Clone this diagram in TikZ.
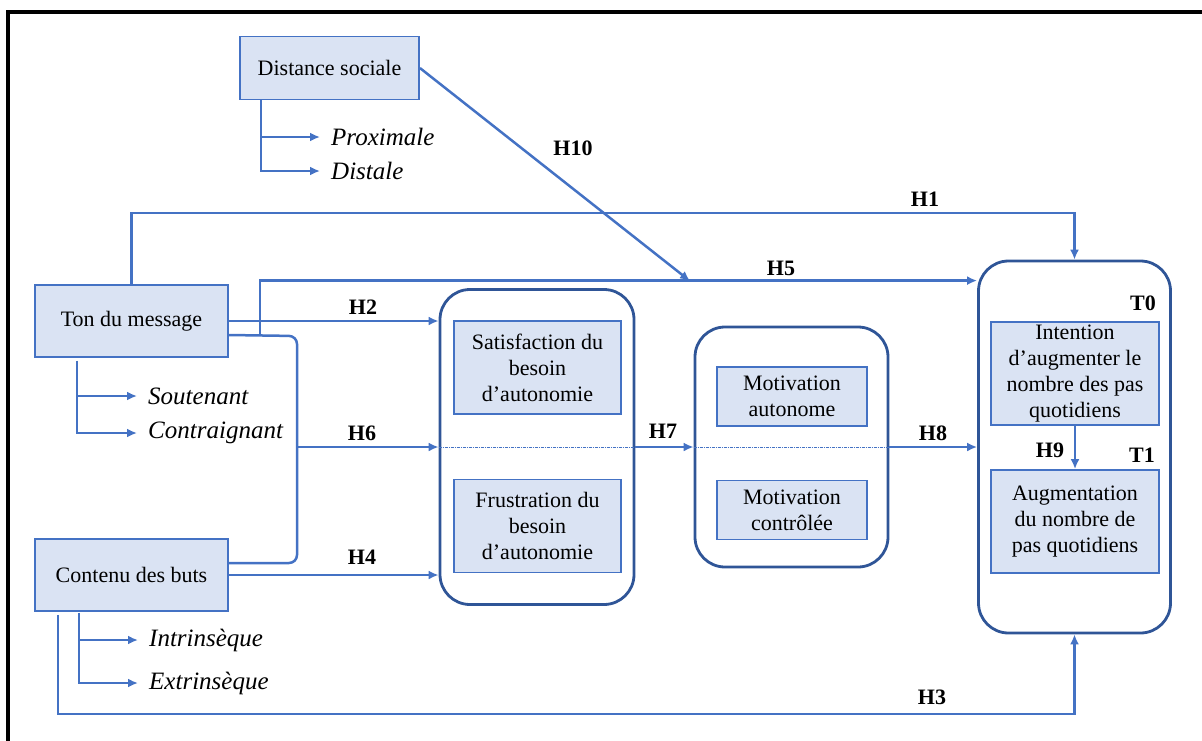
\documentclass[tikz,border=0pt]{standalone}
\usepackage{fontspec}
\setmainfont{Liberation Serif}
\usetikzlibrary{calc,arrows.meta}

\definecolor{bleu}{HTML}{4472C4}
\definecolor{bleufonce}{HTML}{2F5597}
\definecolor{bleuclair}{HTML}{DAE3F3}

\tikzset{
  boite/.style={draw=bleu, line width=1.8pt, fill=bleuclair, inner sep=0pt, align=center, font=\fontsize{22}{26}\selectfont},
  cadre/.style={draw=bleufonce, line width=2.8pt, rounded corners=30pt, inner sep=0pt},
  ligne/.style={draw=bleu, line width=2.5pt},
  fleche/.style={ligne, -{Latex[length=10pt,width=9pt]}},
  pointille/.style={draw=bleu, line width=1pt, densely dash dot},
  hyp/.style={font=\fontsize{22}{26}\selectfont\bfseries, inner sep=0pt},
  modal/.style={font=\fontsize{25}{29}\selectfont\itshape, anchor=west, inner xsep=11pt, inner ysep=0pt}
}

\begin{document}
\begin{tikzpicture}[x=1pt,y=-1pt]
  \useasboundingbox (0,0) rectangle (1202,740);
  % cadre noir
  \draw[line width=4pt] (8,760) -- (8,11.5) -- (1220,11.5);

  % groupes
  \node[cadre, minimum width=194pt, minimum height=315pt] (besoin) at (537,447) {};
  \node[cadre, minimum width=193pt, minimum height=240pt] (motiv) at (791.5,447) {};
  \node[cadre, minimum width=192pt, minimum height=372pt] (result) at (1074.5,447) {};

  % variables
  \node[boite, minimum width=179pt, minimum height=63pt] (dist) at (329.5,68) {Distance sociale};
  \node[boite, minimum width=193pt, minimum height=72pt] (ton) at (131.5,321) {Ton du message};
  \node[boite, minimum width=193pt, minimum height=72pt] (contenu) at (131.5,575) {Contenu des buts};
  \node[boite, minimum width=167pt, minimum height=93pt] (satis) at (537.5,367.5) {Satisfaction du\\besoin\\d’autonomie};
  \node[boite, minimum width=167pt, minimum height=93pt] (frust) at (537.5,526) {Frustration du\\besoin\\d’autonomie};
  \node[boite, minimum width=150pt, minimum height=59pt] (auto) at (792,396.5) {Motivation\\autonome};
  \node[boite, minimum width=150pt, minimum height=59pt] (contr) at (792,510) {Motivation\\contrôlée};
  \node[boite, minimum width=168pt, minimum height=103pt] (intent) at (1075,373.5) {Intention\\d’augmenter le\\nombre des pas\\quotidiens};
  \node[boite, minimum width=168pt, minimum height=103pt] (augm) at (1075,521.5) {Augmentation\\du nombre de\\pas quotidiens};

  % modalites
  \node[modal] (prox) at (320,137) {Proximale};
  \node[modal] (distale) at (320,171) {Distale};
  \node[modal] (sout) at (137,396) {Soutenant};
  \node[modal] (contrai) at (137,433) {Contraignant};
  \node[modal] (intr) at (138,640) {Intrinsèque};
  \node[modal] (extr) at (138,683) {Extrinsèque};

  \draw[fleche] ($(dist.south west)+(22,0)$) |- (prox.west);
  \draw[fleche] ($(dist.south west)+(22,0)$) |- (distale.west);
  \draw[fleche] ($(ton.south west)+(43,3)$) |- (sout.west);
  \draw[fleche] ($(ton.south west)+(43,3)$) |- (contrai.west);
  \draw[fleche] ($(contenu.south west)+(45,1)$) |- (intr.west);
  \draw[fleche] ($(contenu.south west)+(45,1)$) |- (extr.west);

  % liens
  \coordinate (b1) at (297,336);
  \coordinate (b2) at (297,563);
  \coordinate (b3) at (297,447);
  \coordinate (h5) at (260,335);
  \coordinate (h10) at (690,281);
  \draw[ligne, rounded corners=8pt] ($(ton.east)+(0,14)$) -- (b1) -- (b2) -- ($(contenu.east)+(0,-12)$);
  \draw[fleche] (ton.north) -- ++(0,-71) -| (result.north);
  \draw[fleche] ($(contenu.south west)+(24,3)$) -- ++(0,99) -| (result.south);
  \draw[fleche] (h5) |- ($(result.north west)+(0,21)$);
  \draw[fleche] (dist.east) -- (h10);
  \draw[fleche] (ton.east) -- (ton.east -| besoin.west);
  \draw[fleche] (b3) -- (besoin.west);
  \draw[fleche] (contenu.east) -- (contenu.east -| besoin.west);
  \draw[fleche] (besoin.east) -- (motiv.west);
  \draw[fleche] (motiv.east) -- (result.west);
  \draw[fleche] (intent.south) -- (augm.north);
  \draw[pointille] (besoin.west) -- (besoin.east);
  \draw[pointille] (motiv.west) -- (motiv.east);

  % hypotheses
  \node[hyp] (lh1) at (925,199) {H1};
  \node[hyp] (lh2) at (363,307) {H2};
  \node[hyp] (lh3) at (932,697) {H3};
  \node[hyp] (lh4) at (362,557) {H4};
  \node[hyp] (lh5) at (781,268) {H5};
  \node[hyp] (lh6) at (362,433) {H6};
  \node[hyp] (lh7) at (663,431) {H7};
  \node[hyp] (lh8) at (933,433) {H8};
  \node[hyp] (lh9) at (1050,450) {H9};
  \node[hyp] (lh10) at (573,148) {H10};
  \node[hyp] (lt0) at (1143,303) {T0};
  \node[hyp] (lt1) at (1142,455) {T1};
\end{tikzpicture}
\end{document}
